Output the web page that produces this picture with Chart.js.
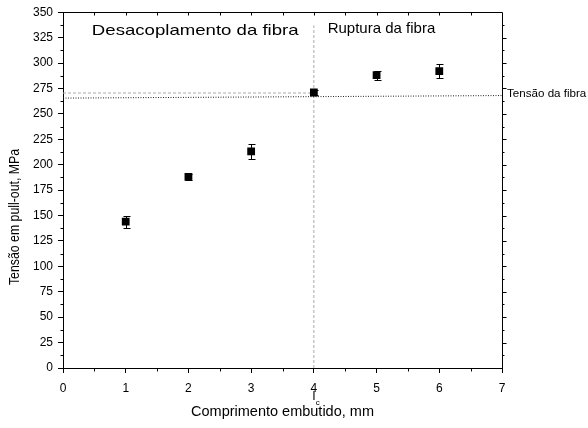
<!DOCTYPE html>
<html>
<head>
<meta charset="utf-8">
<script src="https://cdn.jsdelivr.net/npm/chart.js@4.4.1/dist/chart.umd.min.js"></script>
<style>
  html, body { margin: 0; padding: 0; background: #fff; }
</style>
</head>
<body>
<canvas id="chart" width="588" height="428"></canvas>
<script>
const FONT = '"Liberation Sans", Arial, sans-serif';

// pull-out points (mean +/- error)
const embedLengths = [1, 2, 3, 4, 5, 6];
const pulloutStress = [144, 188, 213, 271, 288, 292];
const stressError = [6, 3, 7, 2, 4.5, 7];

// reference lines
const fiberStrengthX = [0, 7];
const fiberStrengthY = [265.5, 268];
const criticalStressX = [0, 4];
const criticalStressY = [270.5, 270.5];
const criticalLengthX = [4, 4];
const criticalLengthY = [0, 337];

const toPoints = (xs, ys) => xs.map((v, i) => ({ x: v, y: ys[i] }));

// text stretched horizontally (the original figure is a bit wider than tall)
function wideText(ctx, text, px, py, sx) {
    ctx.save();
    ctx.translate(px, py);
    ctx.scale(sx, 1);
    ctx.fillText(text, 0, 0);
    ctx.restore();
}

const errorBars = {
    id: 'errorBars',
    afterDatasetsDraw(chart) {
        const { ctx, scales: { x, y } } = chart;
        ctx.save();
        ctx.strokeStyle = '#000';
        ctx.lineWidth = 1;
        embedLengths.forEach((v, i) => {
            const px = Math.round(x.getPixelForValue(v)) + 0.5;
            const top = Math.round(y.getPixelForValue(pulloutStress[i] + stressError[i])) + 0.5;
            const bot = Math.round(y.getPixelForValue(pulloutStress[i] - stressError[i])) + 0.5;
            ctx.beginPath();
            ctx.moveTo(px, top); ctx.lineTo(px, bot);
            ctx.moveTo(px - 3, top); ctx.lineTo(px + 4, top);
            ctx.moveTo(px - 3, bot); ctx.lineTo(px + 4, bot);
            ctx.stroke();
        });
        ctx.restore();
    },
};

const frame = {
    id: 'frame',
    afterDraw(chart) {
        const { ctx, chartArea: a, scales: { x, y } } = chart;
        const L = Math.round(a.left) + 0.5, R = Math.round(a.right) + 0.5;
        const T = Math.round(a.top) + 0.5, B = Math.round(a.bottom) + 0.5;
        ctx.save();
        ctx.strokeStyle = '#000';
        ctx.lineWidth = 1;
        ctx.beginPath();
        ctx.moveTo(L, T); ctx.lineTo(R, T); ctx.lineTo(R, B);
        // minor ticks on x (bottom outward, top inward)
        for (let v = 0.5; v < 7; v += 1) {
            const px = Math.round(x.getPixelForValue(v)) + 0.5;
            ctx.moveTo(px, B); ctx.lineTo(px, B + 3);
        }
        for (let v = 0.5; v < 7; v += 0.5) {
            const px = Math.round(x.getPixelForValue(v)) + 0.5;
            ctx.moveTo(px, T); ctx.lineTo(px, T + 3);
        }
        // minor ticks on y (left outward), right side ticks outward
        for (let v = 12.5; v < 350; v += 25) {
            const py = Math.round(y.getPixelForValue(v)) + 0.5;
            ctx.moveTo(L, py); ctx.lineTo(L - 3, py);
        }
        for (let v = 12.5; v < 350; v += 12.5) {
            const py = Math.round(y.getPixelForValue(v)) + 0.5;
            ctx.moveTo(R, py); ctx.lineTo(R + (v % 25 === 0 ? 4 : 2), py);
        }
        ctx.stroke();

        ctx.fillStyle = '#000';
        ctx.textBaseline = 'middle';
        ctx.textAlign = 'left';
        ctx.font = '15px ' + FONT;
        wideText(ctx, 'Desacoplamento da fibra', x.getPixelForValue(0.46), y.getPixelForValue(332), 1.24);
        wideText(ctx, 'Ruptura da fibra', x.getPixelForValue(4.22), y.getPixelForValue(334), 1.0);
        ctx.font = '10px ' + FONT;
        wideText(ctx, 'Tensão da fibra', a.right + 5, y.getPixelForValue(fiberStrengthY[1]) - 1, 1.16);

        // y axis title, slightly condensed and set low like the original
        ctx.save();
        ctx.translate(15, 217);
        ctx.rotate(-Math.PI / 2);
        ctx.scale(0.82, 1);
        ctx.textAlign = 'center';
        ctx.font = '15px ' + FONT;
        ctx.fillText('Tensão em pull-out, MPa', 0, 0);
        ctx.restore();

        // critical length mark l_c under the x = 4 tick
        const lx = x.getPixelForValue(4);
        ctx.font = '13px ' + FONT;
        ctx.textAlign = 'center';
        ctx.fillText('l', lx, a.bottom + 28);
        ctx.font = '8px ' + FONT;
        ctx.fillText('c', lx + 4, a.bottom + 35);
        ctx.restore();
    },
};

new Chart(document.getElementById('chart'), {
    type: 'scatter',
    data: {
        datasets: [
            {
                data: toPoints(embedLengths, pulloutStress),
                pointStyle: 'rect',
                pointRadius: 5.5,
                backgroundColor: '#000',
                borderColor: '#000',
                borderWidth: 0,
            },
            {
                data: toPoints(fiberStrengthX, fiberStrengthY),
                showLine: true,
                borderColor: '#222',
                borderWidth: 1,
                borderDash: [1, 1.5],
                pointRadius: 0,
            },
            {
                data: toPoints(criticalStressX, criticalStressY),
                showLine: true,
                borderColor: '#aaa',
                borderWidth: 1,
                borderDash: [3, 2],
                pointRadius: 0,
            },
            {
                data: toPoints(criticalLengthX, criticalLengthY),
                showLine: true,
                borderColor: '#aaa',
                borderWidth: 1,
                borderDash: [3, 2],
                pointRadius: 0,
            },
        ],
    },
    options: {
        responsive: false,
        animation: false,
        layout: { padding: { top: 12, right: 86, left: 0, bottom: 0 } },
        plugins: {
            legend: { display: false },
            tooltip: { enabled: false },
        },
        scales: {
            x: {
                type: 'linear',
                min: 0,
                max: 7,
                afterFit(s) { s.height = 60; },
                ticks: { stepSize: 1, color: '#000', font: { family: FONT, size: 12 }, padding: 8 },
                grid: { drawOnChartArea: false, tickLength: 5, color: '#000' },
                border: { color: '#000', width: 1 },
                title: {
                    display: true,
                    text: 'Comprimento embutido, mm',
                    color: '#000',
                    font: { family: FONT, size: 14.5 },
                    padding: { top: 0, bottom: 7 },
                },
            },
            y: {
                min: 0,
                max: 350,
                afterFit(s) { s.width = 63; },
                ticks: { stepSize: 25, color: '#000', font: { family: FONT, size: 12 }, padding: 5 },
                grid: { drawOnChartArea: false, tickLength: 5, color: '#000' },
                border: { color: '#000', width: 1 },
                title: { display: false },
            },
        },
    },
    plugins: [errorBars, frame],
});
</script>
</body>
</html>
